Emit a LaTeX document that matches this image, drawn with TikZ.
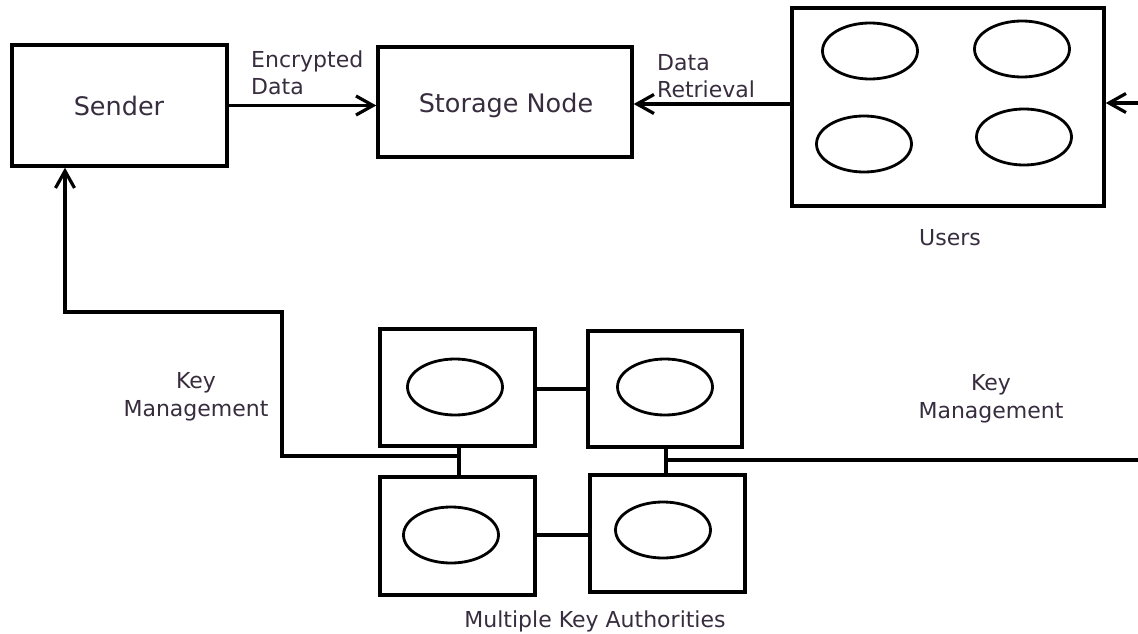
\documentclass[tikz,border=0pt]{standalone}
\usepackage{fontspec}
\setmainfont{DejaVu Sans}
\usetikzlibrary{arrows.meta,shapes.geometric}
\definecolor{txt}{RGB}{55,45,62}
\tikzset{
  box/.style={draw=black, line width=3.4pt, rectangle, inner sep=0pt},
  oval/.style={draw=black, line width=2.8pt, ellipse, inner sep=0pt, minimum width=95pt, minimum height=56pt},
  link/.style={draw=black, line width=3.2pt},
  arr/.style={link, -{Straight Barb[length=17pt,width=19pt,line width=3.2pt]}},
  lbl/.style={text=txt, inner sep=0pt, font=\fontsize{22}{28}\selectfont},
  big/.style={text=txt, inner sep=0pt, font=\fontsize{25.5}{30}\selectfont},
}
\begin{document}
\begin{tikzpicture}[x=1pt,y=-1pt]
\useasboundingbox[fill=white] (0,0) rectangle (1138,634);
% top row
\node[box, minimum width=215pt, minimum height=121pt] (sender) at (119.5,105.5) {};
\node[big, anchor=base] (sendertxt) at (119,115) {Sender};
\node[box, minimum width=254pt, minimum height=110pt] (storage) at (505,102) {};
\node[big, anchor=base] (storagetxt) at (506,112) {Storage Node};
\node[box, minimum width=312pt, minimum height=198pt] (users) at (948,107) {};
\node[oval] (u1) at (870,51) {};
\node[oval] (u2) at (1022,49) {};
\node[oval] (u3) at (864,144) {};
\node[oval] (u4) at (1024,137) {};
\node[lbl, anchor=base] (userstxt) at (950,245) {Users};
\node[lbl, anchor=base west, align=left] (enc) at (251,95) {Encrypted\\Data};
\node[lbl, anchor=base west, align=left] (ret) at (657,98) {Data\\Retrieval};
% key authorities
\node[box, minimum width=155pt, minimum height=117pt] (katl) at (457.5,387.5) {};
\node[box, minimum width=154pt, minimum height=116pt] (katr) at (665,389) {};
\node[box, minimum width=155pt, minimum height=118pt] (kabl) at (457.5,536) {};
\node[box, minimum width=155pt, minimum height=117pt] (kabr) at (667.5,533.5) {};
\node[oval] (e1) at (455,387) {};
\node[oval] (e2) at (665,387) {};
\node[oval] (e3) at (451,535) {};
\node[oval] (e4) at (663,530) {};
\node[lbl, anchor=base] (katxt) at (595,627) {Multiple Key Authorities};
\node[lbl, anchor=base, align=center] (kml) at (196,416) {Key\\Management};
\node[lbl, anchor=base, align=center] (kmr) at (991,418) {Key\\Management};
% connectors
\draw[arr] (sender.east) -- (sender.east -| storage.west);
\draw[arr] (users.west |- 0,104) -- (storage.east |- 0,104);
\coordinate (rin) at (1138,103);
\draw[arr] (rin) -- (rin -| users.east);
\draw[link] (katl.east |- 0,389) -- (katr.west |- 0,389);
\draw[link] (kabl.east |- 0,535) -- (kabr.west |- 0,535);
\draw[link] (katl.south -| 459,0) -- (kabl.north -| 459,0);
\draw[link] (katr.south -| 666,0) -- (kabr.north -| 666,0);
\coordinate (jl) at (459,456);
\coordinate (c1) at (282,312);
\coordinate (c2) at (65,312);
\draw[arr] (jl) -| (c1) -- (c2) -- (c2 |- sender.south);
\coordinate (jr) at (666,460);
\coordinate (rout) at (1138,460);
\draw[link] (jr) -- (rout);
\end{tikzpicture}
\end{document}
